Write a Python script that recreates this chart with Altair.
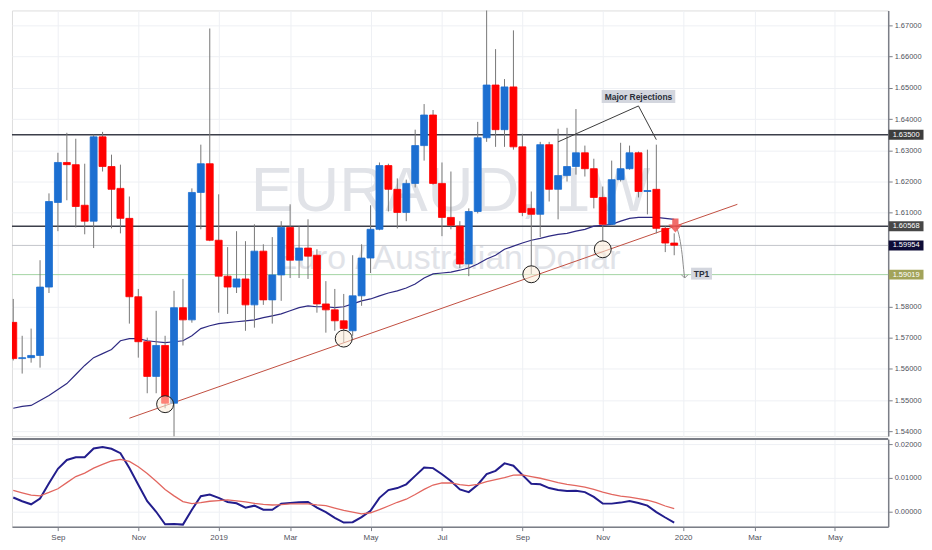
import altair as alt
import pandas as pd

# ---------------- layout ----------------
W = 881
H1 = 428
H2 = 88

BLUE = "#1c6fd1"
RED = "#ff0000"

# ---------------- data ----------------
week_start = "2018-07-30"

open_ = [1.5749, 1.5633, 1.5636, 1.5643, 1.5862, 1.6133, 1.6261, 1.6254, 1.6124, 1.6073,
         1.6343, 1.6248, 1.6178, 1.6082, 1.5831, 1.5687, 1.5576, 1.5675, 1.5490, 1.5796,
         1.5757, 1.6165, 1.6257, 1.6012, 1.5897, 1.5862, 1.5888, 1.5805, 1.5977, 1.5821,
         1.5901, 1.6053, 1.5948, 1.5987, 1.5964, 1.5808, 1.5789, 1.5754, 1.5722, 1.5834,
         1.5955, 1.6047, 1.6251, 1.6175, 1.6101, 1.6194, 1.6315, 1.6413, 1.6194, 1.6085,
         1.6057, 1.5936, 1.6104, 1.6340, 1.6509, 1.6366, 1.6503, 1.6311, 1.6114, 1.6095,
         1.6318, 1.6175, 1.6219, 1.6248, 1.6292, 1.6241, 1.6149, 1.6063, 1.6206, 1.6241,
         1.6292, 1.6168, 1.6175, 1.6050, 1.6003]

close_ = [1.5633, 1.5636, 1.5643, 1.5862, 1.6136, 1.6261, 1.6254, 1.6120, 1.6073, 1.6343,
          1.6248, 1.6175, 1.6082, 1.5831, 1.5687, 1.5576, 1.5675, 1.5490, 1.5796, 1.5757,
          1.6165, 1.6257, 1.6012, 1.5897, 1.5862, 1.5888, 1.5805, 1.5977, 1.5821, 1.5901,
          1.6053, 1.5948, 1.5987, 1.5961, 1.5808, 1.5789, 1.5754, 1.5729, 1.5834, 1.5955,
          1.6047, 1.6251, 1.6175, 1.6101, 1.6194, 1.6315, 1.6413, 1.6194, 1.6085, 1.6060,
          1.5936, 1.6104, 1.6340, 1.6509, 1.6366, 1.6503, 1.6311, 1.6101, 1.6095, 1.6318,
          1.6175, 1.6219, 1.6248, 1.6292, 1.6241, 1.6149, 1.6063, 1.6206, 1.6241, 1.6292,
          1.6168, 1.6171, 1.6050, 1.6003, 1.5996]

high_ = [1.5824, 1.5706, 1.5729, 1.5948, 1.6162, 1.6292, 1.6356, 1.6337, 1.6257, 1.6350,
         1.6359, 1.6286, 1.6254, 1.6152, 1.5856, 1.5700, 1.5786, 1.5706, 1.5850, 1.5888,
         1.6178, 1.6318, 1.6690, 1.6159, 1.5990, 1.6041, 1.6009, 1.6063, 1.5999, 1.6022,
         1.6073, 1.6127, 1.6057, 1.6079, 1.5983, 1.5881, 1.5856, 1.5840, 1.5964, 1.5999,
         1.6124, 1.6261, 1.6257, 1.6210, 1.6206, 1.6366, 1.6448, 1.6429, 1.6261, 1.6232,
         1.6073, 1.6114, 1.6391, 1.6790, 1.6624, 1.6528, 1.6684, 1.6353, 1.6168, 1.6327,
         1.6327, 1.6369, 1.6372, 1.6432, 1.6315, 1.6273, 1.6184, 1.6267, 1.6324, 1.6315,
         1.6296, 1.6302, 1.6318, 1.6057, 1.6034]

low_ = [1.5627, 1.5585, 1.5620, 1.5604, 1.5843, 1.6041, 1.6140, 1.6053, 1.6031, 1.5987,
        1.6232, 1.6050, 1.6034, 1.5745, 1.5636, 1.5522, 1.5522, 1.5474, 1.5378, 1.5675,
        1.5748, 1.6047, 1.6009, 1.5780, 1.5776, 1.5843, 1.5722, 1.5732, 1.5805, 1.5745,
        1.5818, 1.5891, 1.5891, 1.5888, 1.5780, 1.5716, 1.5722, 1.5684, 1.5706, 1.5802,
        1.5907, 1.6044, 1.6104, 1.6050, 1.6073, 1.6181, 1.6267, 1.6190, 1.6025, 1.6047,
        1.5923, 1.5897, 1.6098, 1.6327, 1.6311, 1.6311, 1.6302, 1.6089, 1.5904, 1.6022,
        1.6136, 1.6079, 1.6200, 1.6222, 1.6216, 1.6114, 1.6009, 1.6060, 1.6200, 1.6238,
        1.6149, 1.6095, 1.6034, 1.5974, 1.5964]

ma_ = [1.5474, 1.5480, 1.5483, 1.5499, 1.5515, 1.5534, 1.5553, 1.5582, 1.5611, 1.5636,
       1.5649, 1.5662, 1.5690, 1.5697, 1.5697, 1.5690, 1.5687, 1.5684, 1.5687, 1.5690,
       1.5706, 1.5729, 1.5738, 1.5745, 1.5748, 1.5751, 1.5754, 1.5757, 1.5764, 1.5770,
       1.5776, 1.5786, 1.5796, 1.5802, 1.5799, 1.5799, 1.5796, 1.5799, 1.5808, 1.5818,
       1.5824, 1.5834, 1.5843, 1.5850, 1.5859, 1.5872, 1.5891, 1.5904, 1.5907, 1.5910,
       1.5916, 1.5923, 1.5936, 1.5952, 1.5964, 1.5983, 1.5993, 1.6003, 1.6012, 1.6018,
       1.6025, 1.6031, 1.6034, 1.6041, 1.6047, 1.6057, 1.6060, 1.6063, 1.6073, 1.6082,
       1.6085, 1.6085, 1.6085, 1.6082, 1.6079]

macd_ = [0.0042, 0.0031, 0.0022, 0.0039, 0.0084, 0.0127, 0.0153, 0.0161, 0.0161, 0.0187,
         0.0191, 0.0186, 0.0173, 0.0129, 0.0080, 0.0031, 0.0000, -0.0037, -0.0036, -0.0038,
         0.0006, 0.0046, 0.0051, 0.0041, 0.0029, 0.0025, 0.0012, 0.0018, 0.0006, 0.0006,
         0.0024, 0.0026, 0.0028, 0.0029, 0.0012, -0.0001, -0.0018, -0.0032, -0.0031, -0.0016,
         0.0003, 0.0041, 0.0064, 0.0070, 0.0081, 0.0106, 0.0131, 0.0129, 0.0111, 0.0091,
         0.0066, 0.0058, 0.0080, 0.0111, 0.0121, 0.0143, 0.0136, 0.0109, 0.0083, 0.0081,
         0.0070, 0.0064, 0.0061, 0.0062, 0.0058, 0.0044, 0.0024, 0.0024, 0.0027, 0.0032,
         0.0026, 0.0018, -0.0001, -0.0017, -0.0032]

signal_ = [0.0063, 0.0056, 0.0049, 0.0047, 0.0057, 0.0068, 0.0086, 0.0104, 0.0114, 0.0129,
           0.0140, 0.0150, 0.0155, 0.0149, 0.0133, 0.0113, 0.0090, 0.0066, 0.0047, 0.0030,
           0.0024, 0.0027, 0.0031, 0.0033, 0.0035, 0.0032, 0.0029, 0.0025, 0.0022, 0.0020,
           0.0021, 0.0023, 0.0023, 0.0023, 0.0020, 0.0018, 0.0011, 0.0004, -0.0001, -0.0006,
           -0.0003, 0.0006, 0.0017, 0.0028, 0.0037, 0.0051, 0.0066, 0.0079, 0.0085, 0.0085,
           0.0080, 0.0077, 0.0081, 0.0089, 0.0095, 0.0101, 0.0108, 0.0109, 0.0104, 0.0099,
           0.0093, 0.0086, 0.0081, 0.0077, 0.0073, 0.0066, 0.0058, 0.0051, 0.0046, 0.0043,
           0.0039, 0.0034, 0.0027, 0.0017, 0.0009]

# horizontal levels
level_prices = [1.635, 1.60568, 1.59954, 1.59019]
level_labels = ["1.63500", "1.60568", "1.59954", "1.59019"]
level_line_colors = ["#3c3f4a", "#3c3f4a", "#c3c5cb", "#a3d4a3"]
level_line_widths = [1.6, 1.6, 1.0, 1.0]
level_box_colors = ["#3d3d3d", "#474747", "#0e0c36", "#a2a35a"]

# trend line
trend_dates = ["2018-10-29", "2020-02-17T12:00:00Z"]
trend_prices = [1.5442, 1.6127]

# touch circles
circle_dates = ["2018-11-26", "2019-04-15", "2019-09-09", "2019-11-04"]
circle_prices = [1.5487, 1.5697, 1.5903, 1.5983]

# "Major Rejections" pointer lines
rej_dates = ["2019-09-30", "2019-12-02", "2019-12-16"]
rej_prices = [1.6327, 1.6442, 1.6334]

# projection arrow
arrow_dates = ["2019-12-31T21:00:00Z", "2020-01-03T07:00:00Z", "2020-01-05T05:00:00Z",
               "2020-01-06T19:00:00Z", "2020-01-07T05:00:00Z"]
arrow_prices = [1.6053, 1.6018, 1.5967, 1.5904, 1.5891]
sell_date = ["2019-12-30T22:00:00Z"]
sell_price = [1.6059]

# text labels
note_texts = ["Major Rejections", "TP1"]
note_dates = ["2019-12-02", "2020-01-20T10:00:00Z"]
note_prices = [1.6472, 1.5905]

# 1.60000 and 1.59000 are hidden under the price boxes in the reference
price_ticks = [1.54, 1.55, 1.56, 1.57, 1.58, 1.61, 1.62, 1.63, 1.64, 1.65, 1.66, 1.67]
ind_ticks = [0.0, 0.01, 0.02]

# ---------------- frames ----------------
dates = pd.date_range(week_start, periods=len(close_), freq="7D").strftime("%Y-%m-%d").tolist()
candles = pd.DataFrame({"date": dates, "open": open_, "high": high_, "low": low_,
                        "close": close_, "ma": ma_, "macd": macd_, "signal": signal_})
candles["dir"] = ["up" if c >= o else "down" for o, c in zip(open_, close_)]

levels = pd.DataFrame({"price": level_prices, "label": level_labels, "lc": level_line_colors,
                       "lw": level_line_widths, "bc": level_box_colors})
trend = pd.DataFrame({"date": trend_dates, "price": trend_prices})
circles = pd.DataFrame({"date": circle_dates, "price": circle_prices})
rej = pd.DataFrame({"date": rej_dates, "price": rej_prices, "k": [0, 1, 2]})
arrow = pd.DataFrame({"date": arrow_dates, "price": arrow_prices})
arrow_tip = arrow.tail(1)
sell = pd.DataFrame({"date": sell_date, "price": sell_price})
notes = pd.DataFrame({"text": note_texts, "date": note_dates, "price": note_prices})


def dt(y, m, d, h=0):
    return alt.DateTime(year=y, month=m, date=d, hours=h, utc=True)


x_scale = alt.Scale(type="utc", domain=[dt(2018, 7, 29), dt(2020, 6, 14, 17)], padding=0)
# labels sit on the first weekly bar of every other month
month_ticks = [dt(2018, 9, 3), dt(2018, 11, 5), dt(2019, 1, 7), dt(2019, 3, 4), dt(2019, 5, 6),
               dt(2019, 7, 1), dt(2019, 9, 2), dt(2019, 11, 4), dt(2020, 1, 6), dt(2020, 3, 2),
               dt(2020, 5, 4)]
GRID = "#eef0f4"
AXC = "#7b7e87"
LABC = "#4f525c"

x_axis_top = alt.Axis(values=month_ticks, labels=False, ticks=False, domain=False, grid=True,
                      gridColor=GRID, title=None)
x_axis_bot = alt.Axis(values=month_ticks, grid=True, gridColor=GRID, title=None,
                      labelExpr="utcmonth(datum.value) == 0 ? utcFormat(datum.value, '%Y') : utcFormat(datum.value, '%b')",
                      tickSize=4, tickColor=AXC, domainColor=AXC, domainWidth=1.5,
                      labelFontSize=8, labelColor=LABC, labelPadding=3)

y_scale = alt.Scale(domain=[1.53847, 1.67478], nice=False, zero=False)
y_axis = alt.Axis(orient="right", values=price_ticks, format=".5f", grid=True, gridColor=GRID,
                  tickSize=4, tickColor=AXC, domainColor=AXC, domainWidth=1.5, labelFontSize=7.5,
                  labelColor=LABC, labelPadding=2, title=None)

yi_scale = alt.Scale(domain=[-0.0044, 0.02147], nice=False, zero=False)
yi_axis = alt.Axis(orient="right", values=ind_ticks, format=".5f", grid=True, gridColor=GRID,
                   tickSize=4, tickColor=AXC, domainColor=AXC, domainWidth=1.5, labelFontSize=7.5,
                   labelColor=LABC, labelPadding=2, title=None)


def XT(field="date"):
    return alt.X(f"{field}:T", scale=x_scale, axis=x_axis_top)


def XB(field="date"):
    return alt.X(f"{field}:T", scale=x_scale, axis=x_axis_bot)


def YP(field):
    return alt.Y(f"{field}:Q", scale=y_scale, axis=y_axis)


def YI(field):
    return alt.Y(f"{field}:Q", scale=yi_scale, axis=yi_axis)


one = pd.DataFrame({"t": ["EURAUD, 1W"], "s": ["Euro / Australian Dollar"]})

wm_main = alt.Chart(one).mark_text(
    font="Liberation Sans", fontSize=64,
    color="#e1e3e8", align="center", baseline="alphabetic"
).encode(x=alt.value(441), y=alt.value(202), text="t:N")

wm_sub = alt.Chart(one).mark_text(
    font="Liberation Sans", fontSize=34, color="#e1e3e8", align="center", baseline="alphabetic"
).encode(x=alt.value(438), y=alt.value(260), text="s:N")

level_rules = alt.Chart(levels).mark_rule().encode(
    y=YP("price"),
    color=alt.Color("lc:N", scale=None),
    strokeWidth=alt.StrokeWidth("lw:Q", scale=None),
)

trend_line = alt.Chart(trend).mark_line(color="#c14e3f", strokeWidth=1).encode(
    x=XT(), y=YP("price"))

ma_line = alt.Chart(candles).mark_line(color="#2e2a82", strokeWidth=1.2).encode(
    x=XT(), y=YP("ma"))

wicks = alt.Chart(candles).mark_rule(color="#777777", strokeWidth=1, clip=True).encode(
    x=XT(), y=YP("low"), y2="high:Q")

bodies = alt.Chart(candles).mark_bar(size=7, strokeWidth=0.8, clip=True).encode(
    x=XT(), y=YP("open"), y2="close:Q",
    color=alt.Color("dir:N", scale=alt.Scale(domain=["up", "down"], range=[BLUE, RED]), legend=None),
    stroke=alt.Stroke("dir:N", scale=alt.Scale(domain=["up", "down"], range=[BLUE, RED]), legend=None),
)

circ = alt.Chart(circles).mark_point(shape="circle", size=290, filled=False, fill="#fbecd9",
                                     fillOpacity=0.55, stroke="#1e1e1e", strokeWidth=1,
                                     opacity=1).encode(x=XT(), y=YP("price"))

rej_lines = alt.Chart(rej).mark_line(color="#3a3a3a", strokeWidth=1).encode(
    x=XT(), y=YP("price"), order="k:O")

arrow_line = alt.Chart(arrow).mark_line(color="#8c8c8c", strokeWidth=1, interpolate="monotone").encode(
    x=XT(), y=YP("price"))

arrow_head = alt.Chart(arrow_tip).mark_point(shape="M-1,-1L0,0L1,-1", size=49, filled=False,
                                             stroke="#8c8c8c", strokeWidth=1, opacity=1).encode(
    x=XT(), y=YP("price"))

sell_mark = alt.Chart(sell).mark_point(
    shape="M-0.45,-1L0.45,-1L0.45,-0.15L1,-0.15L0,1L-1,-0.15L-0.45,-0.15Z",
    size=196, filled=True, color="#ef5350", opacity=0.85, strokeWidth=0
).encode(x=XT(), y=YP("price"))

note_bg = alt.Chart(notes).mark_point(filled=True, opacity=1, strokeWidth=0, color="#d3d6de").encode(
    x=XT(), y=YP("price"),
    shape=alt.Shape("text:N", scale=alt.Scale(domain=note_texts,
                                              range=["M-1,-0.176L1,-0.176L1,0.176L-1,0.176Z",
                                                     "M-1,-0.57L1,-0.57L1,0.57L-1,0.57Z"]), legend=None),
    size=alt.Size("text:N", scale=alt.Scale(domain=note_texts, range=[5476, 441]), legend=None),
)
note_txt = alt.Chart(notes).mark_text(fontSize=8.5, fontWeight="bold", color="#2a2e39",
                                      align="center", baseline="middle").encode(
    x=XT(), y=YP("price"), text="text:N")

box_bg = alt.Chart(levels).mark_point(shape="M-1,-0.2857L1,-0.2857L1,0.2857L-1,0.2857Z",
                                      size=1225, filled=True, opacity=1, strokeWidth=0).encode(
    x=alt.value(W + 18), y=YP("price"), color=alt.Color("bc:N", scale=None))
box_txt = alt.Chart(levels).mark_text(fontSize=7.5, color="white", align="center",
                                      baseline="middle").encode(
    x=alt.value(W + 18), y=YP("price"), text="label:N")

top = alt.layer(
    wm_main, wm_sub, level_rules, trend_line, ma_line, wicks, bodies, circ,
    rej_lines, arrow_line, arrow_head, sell_mark, note_bg, note_txt, box_bg, box_txt
).properties(width=W, height=H1)

sep = alt.Chart(pd.DataFrame({"a": [0]})).mark_rule(color=AXC, strokeWidth=2).encode(
    x=alt.value(0), x2=alt.value(W), y=alt.value(0))

macd_line = alt.Chart(candles).mark_line(color="#221d8c", strokeWidth=2).encode(
    x=XB(), y=YI("macd"))
signal_line = alt.Chart(candles).mark_line(color="#e2665f", strokeWidth=1.3).encode(
    x=XB(), y=YI("signal"))

bottom = alt.layer(macd_line, signal_line, sep).properties(width=W, height=H2)

chart = alt.vconcat(top, bottom, spacing=0).properties(padding=0).configure_view(
    stroke=None
).configure(font="Liberation Sans")

chart.save("out.html", embed_options={"renderer": "svg", "actions": False})
